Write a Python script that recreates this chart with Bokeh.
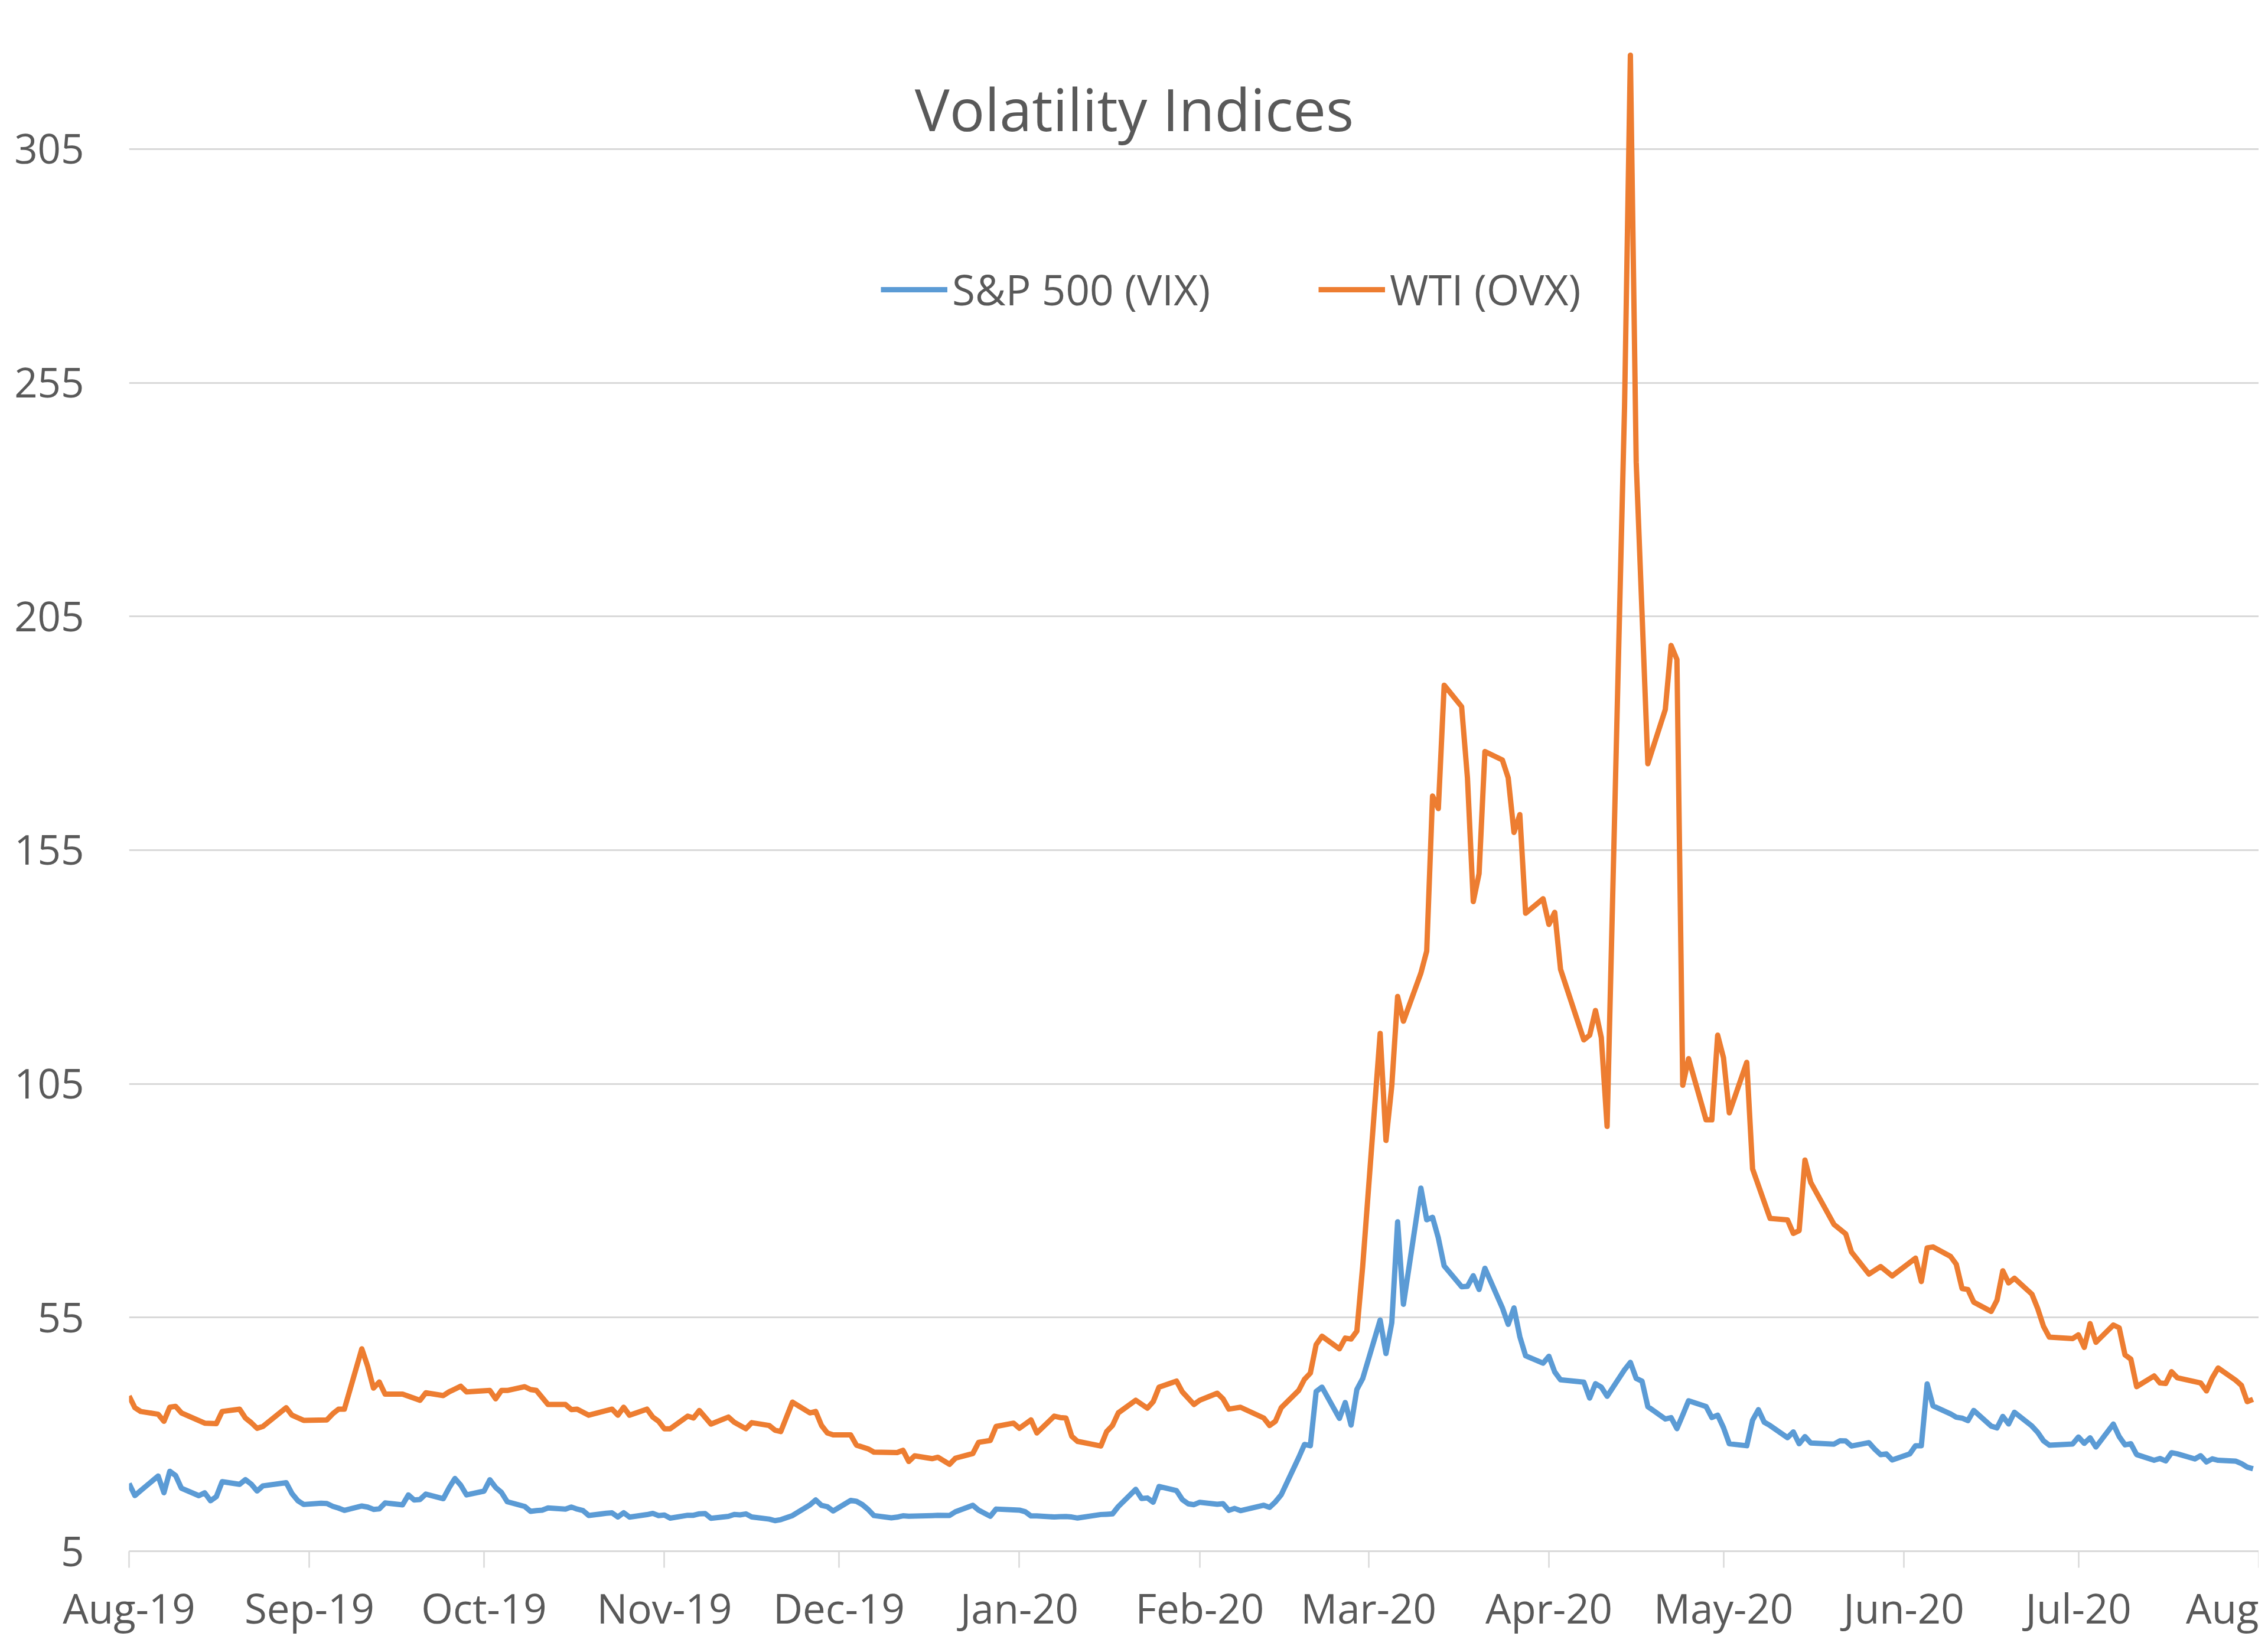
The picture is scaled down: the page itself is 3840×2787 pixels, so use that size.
import pandas as pd
from bokeh.plotting import figure
from bokeh.models import (ColumnDataSource, Range1d, FixedTicker, DatetimeTickFormatter,
                          Legend, LegendItem, Label)
from bokeh.embed import file_html
from bokeh.resources import INLINE

# ---------------- data ----------------
title_text = "Volatility Indices"
series_names = ["S&P 500 (VIX)", "WTI (OVX)"]
series_colors = ["#5B9BD5", "#ED7D31"]

dates = [
    "2019-08-01", "2019-08-02", "2019-08-03", "2019-08-06", "2019-08-07", "2019-08-08", "2019-08-09", "2019-08-10",
    "2019-08-13", "2019-08-14", "2019-08-15", "2019-08-16", "2019-08-17", "2019-08-20", "2019-08-21", "2019-08-22",
    "2019-08-23", "2019-08-24", "2019-08-28", "2019-08-29", "2019-08-30", "2019-08-31",
    "2019-09-03", "2019-09-04", "2019-09-05", "2019-09-06", "2019-09-07", "2019-09-10", "2019-09-11", "2019-09-12",
    "2019-09-13", "2019-09-14", "2019-09-17", "2019-09-18", "2019-09-19", "2019-09-20", "2019-09-21", "2019-09-24",
    "2019-09-25", "2019-09-26", "2019-09-27", "2019-09-28",
    "2019-10-01", "2019-10-02", "2019-10-03", "2019-10-04", "2019-10-05", "2019-10-08", "2019-10-09", "2019-10-10",
    "2019-10-11", "2019-10-12", "2019-10-15", "2019-10-16", "2019-10-17", "2019-10-18", "2019-10-19", "2019-10-22",
    "2019-10-23", "2019-10-24", "2019-10-25", "2019-10-26", "2019-10-29", "2019-10-30", "2019-10-31",
    "2019-11-01", "2019-11-02", "2019-11-05", "2019-11-06", "2019-11-07", "2019-11-08", "2019-11-09", "2019-11-12",
    "2019-11-13", "2019-11-14", "2019-11-15", "2019-11-16", "2019-11-19", "2019-11-20", "2019-11-21", "2019-11-23",
    "2019-11-26", "2019-11-27", "2019-11-28", "2019-11-29", "2019-11-30",
    "2019-12-03", "2019-12-04", "2019-12-05", "2019-12-06", "2019-12-07", "2019-12-10", "2019-12-11", "2019-12-12",
    "2019-12-13", "2019-12-14", "2019-12-17", "2019-12-18", "2019-12-20", "2019-12-21", "2019-12-24", "2019-12-25",
    "2019-12-27", "2019-12-28", "2019-12-31",
    "2020-01-01", "2020-01-02", "2020-01-03", "2020-01-04", "2020-01-07", "2020-01-08", "2020-01-09", "2020-01-10",
    "2020-01-11", "2020-01-15", "2020-01-16", "2020-01-17", "2020-01-18", "2020-01-21", "2020-01-22", "2020-01-23",
    "2020-01-24", "2020-01-25", "2020-01-28", "2020-01-29", "2020-01-30", "2020-01-31",
    "2020-02-01", "2020-02-04", "2020-02-05", "2020-02-06", "2020-02-07", "2020-02-08", "2020-02-12", "2020-02-13",
    "2020-02-14", "2020-02-15", "2020-02-18", "2020-02-19", "2020-02-20", "2020-02-21", "2020-02-22", "2020-02-25",
    "2020-02-26", "2020-02-27", "2020-02-28", "2020-02-29",
    "2020-03-03", "2020-03-04", "2020-03-05", "2020-03-06", "2020-03-07", "2020-03-10", "2020-03-11", "2020-03-12",
    "2020-03-13", "2020-03-14", "2020-03-17", "2020-03-18", "2020-03-19", "2020-03-20", "2020-03-21", "2020-03-24",
    "2020-03-25", "2020-03-26", "2020-03-27", "2020-03-28", "2020-03-31",
    "2020-04-01", "2020-04-02", "2020-04-03", "2020-04-07", "2020-04-08", "2020-04-09", "2020-04-10", "2020-04-11",
    "2020-04-14", "2020-04-15", "2020-04-16", "2020-04-17", "2020-04-18", "2020-04-21", "2020-04-22", "2020-04-23",
    "2020-04-24", "2020-04-25", "2020-04-28", "2020-04-29", "2020-04-30",
    "2020-05-01", "2020-05-02", "2020-05-05", "2020-05-06", "2020-05-07", "2020-05-08", "2020-05-09", "2020-05-12",
    "2020-05-13", "2020-05-14", "2020-05-15", "2020-05-16", "2020-05-20", "2020-05-21", "2020-05-22", "2020-05-23",
    "2020-05-26", "2020-05-27", "2020-05-28", "2020-05-29", "2020-05-30",
    "2020-06-02", "2020-06-03", "2020-06-04", "2020-06-05", "2020-06-06", "2020-06-09", "2020-06-10", "2020-06-11",
    "2020-06-12", "2020-06-13", "2020-06-16", "2020-06-17", "2020-06-18", "2020-06-19", "2020-06-20", "2020-06-23",
    "2020-06-24", "2020-06-25", "2020-06-26", "2020-06-30",
    "2020-07-01", "2020-07-02", "2020-07-03", "2020-07-04", "2020-07-07", "2020-07-08", "2020-07-09", "2020-07-10",
    "2020-07-11", "2020-07-14", "2020-07-15", "2020-07-16", "2020-07-17", "2020-07-18", "2020-07-21", "2020-07-22",
    "2020-07-23", "2020-07-24", "2020-07-25", "2020-07-28", "2020-07-29", "2020-07-30", "2020-07-31",
]

vix = [
    19.49, 16.91, 17.97, 21.09, 17.52, 22.10, 21.18, 18.47, 16.88, 17.50, 15.80, 16.68, 19.87, 19.32, 20.31, 19.35,
    17.88, 18.98, 19.66, 17.33, 15.82, 15.00,
    15.27, 15.20, 14.61, 14.22, 13.74, 14.67, 14.44, 13.95, 14.05, 15.32, 14.91, 17.05, 15.96, 16.07, 17.22, 16.24,
    18.56, 20.56, 19.12, 17.04,
    17.86, 20.28, 18.64, 17.57, 15.58, 14.57, 13.54, 13.68, 13.79, 14.25, 14.00, 14.46, 14.01, 13.71, 12.65, 13.11,
    13.20, 12.33, 13.22, 12.30, 12.83, 13.10, 12.62,
    12.73, 12.07, 12.69, 12.68, 13.00, 13.05, 12.05, 12.46, 12.86, 12.78, 12.98, 12.34, 11.87, 11.54, 11.75, 12.62,
    14.91, 15.96, 14.80, 14.52, 13.62,
    15.86, 15.68, 14.99, 13.94, 12.63, 12.14, 12.29, 12.58, 12.50, 12.51, 12.61, 12.67, 12.65, 13.43, 14.82, 13.78,
    12.47, 14.02, 13.85,
    13.79, 13.45, 12.54, 12.56, 12.32, 12.39, 12.42, 12.32, 12.10, 12.85, 12.91, 12.98, 14.56, 18.23, 16.28, 16.39,
    15.49, 18.84, 17.97, 16.05, 15.15, 14.96,
    15.47, 15.04, 15.18, 13.74, 14.15, 13.68, 14.83, 14.38, 15.56, 17.08, 25.03, 27.85, 27.56, 39.16, 40.11, 33.42,
    36.82, 31.99, 39.62, 41.94,
    54.46, 47.30, 53.90, 75.47, 57.83, 82.69, 75.91, 76.45, 72.00, 66.04, 61.59, 61.67, 63.95, 61.00, 65.54, 57.08,
    53.54, 57.06, 50.91, 46.80, 45.24,
    46.70, 43.35, 41.67, 41.17, 37.76, 40.84, 40.11, 38.15, 43.83, 45.41, 41.98, 41.38, 35.93, 33.29, 33.57, 31.23,
    34.15, 37.19, 35.97, 33.61, 34.12,
    31.44, 27.98, 27.57, 33.04, 35.28, 32.61, 31.89, 29.30, 30.53, 27.99, 29.53, 28.16, 27.91, 28.62, 28.59, 27.51,
    28.23, 26.84, 25.66, 25.81, 24.52,
    25.81, 27.57, 27.57, 40.79, 36.09, 34.40, 33.67, 33.47, 32.94, 35.12, 31.77, 31.37, 33.84, 32.22, 34.73, 31.78,
    30.43, 28.62, 27.68, 27.94,
    29.43, 28.08, 29.26, 27.29, 32.19, 29.52, 27.76, 28.00, 25.68, 24.46, 24.84, 24.32, 26.08, 25.84, 24.74, 25.44,
    24.10, 24.76, 24.46, 24.28, 23.76, 22.99, 22.65,
]

ovx_dates = [
    "2019-08-01", "2019-08-02", "2019-08-03", "2019-08-06", "2019-08-07", "2019-08-08", "2019-08-09", "2019-08-10",
    "2019-08-14", "2019-08-16", "2019-08-17", "2019-08-20", "2019-08-21", "2019-08-22", "2019-08-23", "2019-08-24",
    "2019-08-28", "2019-08-29", "2019-08-31",
    "2019-09-04", "2019-09-05", "2019-09-06", "2019-09-07", "2019-09-10", "2019-09-11", "2019-09-12", "2019-09-13",
    "2019-09-14", "2019-09-17", "2019-09-20", "2019-09-21", "2019-09-24", "2019-09-25", "2019-09-27", "2019-09-28",
    "2019-10-02", "2019-10-03", "2019-10-04", "2019-10-05", "2019-10-08", "2019-10-09", "2019-10-10", "2019-10-12",
    "2019-10-15", "2019-10-16", "2019-10-17", "2019-10-19", "2019-10-23", "2019-10-24", "2019-10-25", "2019-10-26",
    "2019-10-29", "2019-10-30", "2019-10-31",
    "2019-11-01", "2019-11-02", "2019-11-05", "2019-11-06", "2019-11-07", "2019-11-09", "2019-11-12", "2019-11-13",
    "2019-11-15", "2019-11-16", "2019-11-19", "2019-11-20", "2019-11-21", "2019-11-23", "2019-11-26", "2019-11-27",
    "2019-11-28", "2019-11-29", "2019-11-30",
    "2019-12-03", "2019-12-04", "2019-12-06", "2019-12-07", "2019-12-11", "2019-12-12", "2019-12-13", "2019-12-14",
    "2019-12-17", "2019-12-18", "2019-12-20", "2019-12-21", "2019-12-24", "2019-12-25", "2019-12-27", "2019-12-28",
    "2019-12-31",
    "2020-01-01", "2020-01-03", "2020-01-04", "2020-01-07", "2020-01-08", "2020-01-09", "2020-01-10", "2020-01-11",
    "2020-01-15", "2020-01-16", "2020-01-17", "2020-01-18", "2020-01-21", "2020-01-23", "2020-01-24", "2020-01-25",
    "2020-01-28", "2020-01-29", "2020-01-31",
    "2020-02-01", "2020-02-04", "2020-02-05", "2020-02-06", "2020-02-08", "2020-02-12", "2020-02-13", "2020-02-14",
    "2020-02-15", "2020-02-18", "2020-02-19", "2020-02-20", "2020-02-21", "2020-02-22", "2020-02-25", "2020-02-26",
    "2020-02-27", "2020-02-28", "2020-02-29",
    "2020-03-03", "2020-03-04", "2020-03-05", "2020-03-06", "2020-03-07", "2020-03-10", "2020-03-11", "2020-03-12",
    "2020-03-13", "2020-03-14", "2020-03-17", "2020-03-18", "2020-03-19", "2020-03-20", "2020-03-21", "2020-03-24",
    "2020-03-25", "2020-03-26", "2020-03-27", "2020-03-28", "2020-03-31",
    "2020-04-01", "2020-04-02", "2020-04-03", "2020-04-07", "2020-04-08", "2020-04-09", "2020-04-10", "2020-04-11",
    "2020-04-14", "2020-04-15", "2020-04-16", "2020-04-18", "2020-04-21", "2020-04-22", "2020-04-23", "2020-04-24",
    "2020-04-25", "2020-04-28", "2020-04-29", "2020-04-30",
    "2020-05-01", "2020-05-02", "2020-05-05", "2020-05-06", "2020-05-09", "2020-05-12", "2020-05-13", "2020-05-14",
    "2020-05-15", "2020-05-16", "2020-05-20", "2020-05-22", "2020-05-23", "2020-05-26", "2020-05-28", "2020-05-30",
    "2020-06-03", "2020-06-04", "2020-06-05", "2020-06-06", "2020-06-09", "2020-06-10", "2020-06-11", "2020-06-12",
    "2020-06-13", "2020-06-16", "2020-06-17", "2020-06-18", "2020-06-19", "2020-06-20", "2020-06-23", "2020-06-24",
    "2020-06-25", "2020-06-26", "2020-06-30",
    "2020-07-01", "2020-07-02", "2020-07-03", "2020-07-04", "2020-07-07", "2020-07-08", "2020-07-09", "2020-07-10",
    "2020-07-11", "2020-07-14", "2020-07-15", "2020-07-16", "2020-07-17", "2020-07-18", "2020-07-22", "2020-07-23",
    "2020-07-24", "2020-07-25", "2020-07-28", "2020-07-29", "2020-07-30", "2020-07-31",
]

ovx = [
    38.2, 35.7, 34.9, 34.3, 32.8, 35.8, 36.0, 34.6, 32.4, 32.3, 34.9, 35.4, 33.5, 32.5, 31.3, 31.7,
    35.7, 34.1, 33.0,
    33.1, 34.4, 35.4, 35.4, 48.3, 44.6, 39.9, 41.2, 38.6, 38.6, 37.3, 38.9, 38.3, 39.1, 40.3, 39.1,
    39.4, 37.6, 39.4, 39.4, 40.2, 39.6, 39.4, 36.4, 36.4, 35.3, 35.4, 34.1, 35.4, 34.1, 35.8, 34.1,
    35.4, 33.7, 32.8,
    31.2, 31.2, 33.9, 33.5, 35.1, 32.2, 33.7, 32.6, 31.2, 32.5, 31.9, 30.9, 30.6, 36.9, 34.6, 34.9,
    31.9, 30.3, 29.9,
    29.9, 27.7, 26.9, 26.2, 26.1, 26.6, 24.2, 25.4, 24.8, 25.1, 23.6, 24.9, 25.9, 28.3, 28.7, 31.7,
    32.4,
    31.3, 33.1, 30.3, 33.9, 33.6, 33.5, 29.6, 28.5, 27.5, 30.6, 31.9, 34.6, 37.3, 35.6, 37.0, 40.1,
    41.4, 39.1, 36.4,
    37.3, 38.8, 37.6, 35.4, 35.8, 33.5, 31.9, 32.8, 35.7, 39.4, 41.8, 43.1, 49.2, 51.0, 48.3, 50.6,
    50.4, 52.1, 66.0,
    115.8, 92.9, 104.6, 123.7, 118.4, 128.7, 133.4, 166.6, 163.9, 190.3, 185.7, 170.5, 144.0, 150.0, 176.1, 174.3,
    170.5, 158.8, 162.6, 141.5, 144.6,
    139.1, 141.7, 129.5, 114.4, 115.4, 120.7, 114.9, 95.9, 250.0, 325.1, 238.0, 173.5, 185.1, 198.8, 195.8, 104.7,
    110.4, 97.3, 97.3, 115.4,
    110.6, 98.8, 109.6, 86.8, 76.2, 75.9, 73.0, 73.6, 88.7, 83.9, 74.9, 72.9, 69.0, 64.3, 65.9, 63.9,
    67.7, 62.7, 69.9, 70.1, 68.1, 66.4, 61.2, 61.0, 58.3, 56.3, 58.7, 65.0, 62.4, 63.4, 60.0, 56.9,
    53.1, 50.8, 50.5,
    51.3, 48.6, 53.7, 49.7, 53.4, 52.8, 47.0, 46.1, 40.2, 42.5, 41.0, 40.9, 43.4, 42.1, 41.0, 39.3,
    42.1, 44.2, 41.6, 40.5, 37.0, 37.5,
]

month_ticks = ["2019-08-01", "2019-09-01", "2019-10-01", "2019-11-01", "2019-12-01", "2020-01-01", "2020-02-01",
               "2020-03-01", "2020-04-01", "2020-05-01", "2020-06-01", "2020-07-01", "2020-08-01"]
# the last month label is cut by the chart edge in the source; only "Aug" is visible there
edge_label = "Aug"
y_ticks = [5, 55, 105, 155, 205, 255, 305]

assert len(dates) == len(vix)
assert len(ovx_dates) == len(ovx)


def ms(s):
    return pd.Timestamp(s).value / 1e6


# ---------------- figure ----------------
W, H = 3824, 2771
LEFT, TOP, BOTTOM = 218, 28, 144
FONT = "Open Sans"
TXT = "#595959"
GRID = "#D9D9D9"

p = figure(width=W, height=H, x_axis_type="datetime", output_backend="svg", toolbar_location=None,
           x_range=Range1d(ms(month_ticks[0]), ms(month_ticks[-1])),
           y_range=Range1d(5, 333.3),
           min_border_left=LEFT, min_border_right=0, min_border_top=TOP, min_border_bottom=BOTTOM)
p.background_fill_color = "white"
p.border_fill_color = "white"
p.outline_line_color = None

src_vix = ColumnDataSource(dict(x=pd.to_datetime(dates), y=vix))
src_ovx = ColumnDataSource(dict(x=pd.to_datetime(ovx_dates), y=ovx))

r_vix = p.line("x", "y", source=src_vix, line_color=series_colors[0], line_width=9, line_join="round")
r_ovx = p.line("x", "y", source=src_ovx, line_color=series_colors[1], line_width=9, line_join="round")

# axes
p.xaxis.ticker = FixedTicker(ticks=[ms(t) for t in month_ticks])
fmt = "%b-%y"
p.xaxis.formatter = DatetimeTickFormatter(milliseconds=fmt, seconds=fmt, minsec=fmt, minutes=fmt, hourmin=fmt,
                                          hours=fmt, days=fmt, months=fmt, years=fmt)
p.xaxis.major_label_overrides = {ms(month_ticks[-1]): edge_label}
p.xaxis.axis_line_color = GRID
p.xaxis.axis_line_width = 3
p.xaxis.major_tick_line_color = GRID
p.xaxis.major_tick_line_width = 2.5
p.xaxis.major_tick_in = 0
p.xaxis.major_tick_out = 28
p.xaxis.minor_tick_line_color = None
p.xaxis.major_label_standoff = 20

p.yaxis.ticker = FixedTicker(ticks=y_ticks)
p.yaxis.axis_line_color = None
p.yaxis.major_tick_line_color = None
p.yaxis.minor_tick_line_color = None
p.yaxis.major_tick_in = 0
p.yaxis.major_tick_out = 0
p.yaxis.major_label_standoff = 76

for ax in (p.xaxis, p.yaxis):
    ax.major_label_text_font = FONT
    ax.major_label_text_font_size = "69px"
    ax.major_label_text_color = TXT

p.xgrid.grid_line_color = None
p.ygrid.grid_line_color = GRID
p.ygrid.grid_line_width = 3

# legend
legend = Legend(items=[LegendItem(label=series_names[0], renderers=[r_vix]),
                       LegendItem(label=series_names[1], renderers=[r_ovx])],
                orientation="horizontal", location=(1273, 2088),
                glyph_width=113, glyph_height=94, label_height=94, label_standoff=8, spacing=183,
                padding=0, margin=0, background_fill_alpha=0, border_line_alpha=0,
                label_text_font=FONT, label_text_font_size="71px", label_text_color=TXT)
p.add_layout(legend)

# title
title = Label(x=1702, y=2443, x_units="screen", y_units="screen", text=title_text,
              text_align="center", text_baseline="alphabetic", text_font=FONT,
              text_font_size="99px", text_color=TXT)
p.add_layout(title)

open("out.html", "w").write(file_html(p, INLINE))
